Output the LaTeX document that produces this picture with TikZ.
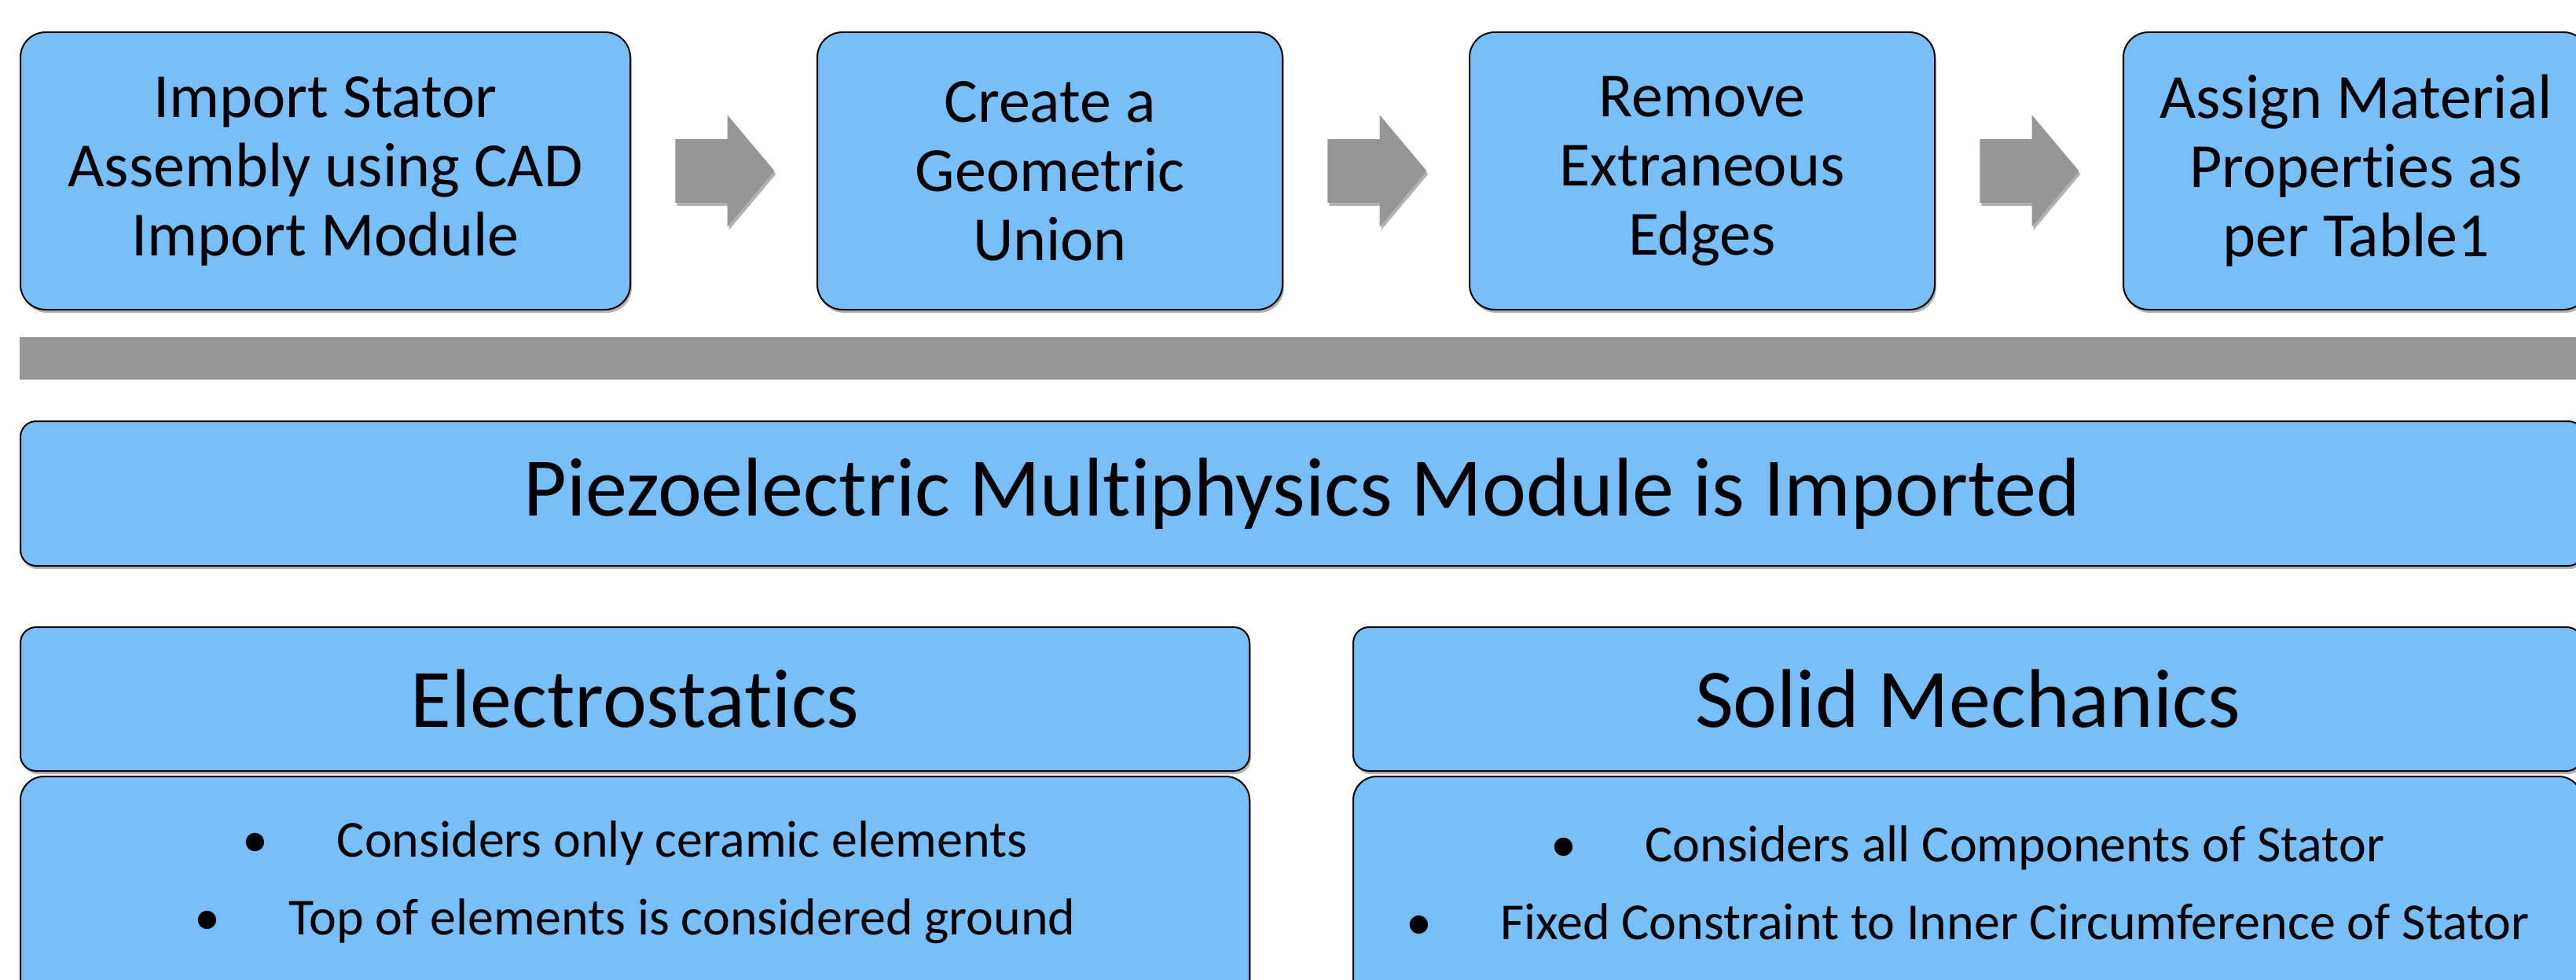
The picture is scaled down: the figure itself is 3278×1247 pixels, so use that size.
\documentclass[tikz,border=0pt]{standalone}
\usepackage{fontspec}
\setmainfont{Carlito}[RawFeature={-liga;-clig;-calt}]
\usetikzlibrary{positioning, shapes.arrows, shadows}
\definecolor{boxblue}{RGB}{120,190,248}
\definecolor{bargray}{RGB}{150,150,150}
\newcommand\blt{\makebox[60pt][l]{•}}

\begin{document}
\begin{tikzpicture}[x=0.5pt, y=-0.5pt,
  sh/.style={drop shadow={shadow xshift=1pt, shadow yshift=-2pt, opacity=0.3, fill=black}},
  s/.style={draw, line width=1pt, fill=boxblue, rounded corners=16pt, sh, align=center, minimum height=176.5pt, inner sep=0pt, font=\fontsize{40}{44}\selectfont},
  a/.style={single arrow, fill=bargray, sh, minimum height=63pt, single arrow head extend=15.5pt, single arrow tip angle=100, inner xsep=0pt, inner ysep=20pt},
  bar/.style={fill=bargray, inner sep=0pt},
  m/.style={draw, line width=1pt, fill=boxblue, rounded corners=10pt, sh, inner sep=0pt, font=\fontsize{53}{60}\selectfont},
  h/.style={m, minimum width=782pt, minimum height=91.5pt},
  b/.style={draw, line width=1pt, fill=boxblue, rounded corners=15pt, sh, minimum width=782pt, minimum height=200pt, inner sep=0pt},
  l/.style={align=center, inner sep=0pt, font=\fontsize{33}{49.5}\selectfont},
  node distance=28pt]
  \clip (0,0) rectangle (3278,1247);
  % steps
  \node[s, minimum width=388pt, anchor=north west] (s1) at (25,40) {Import Stator\\Assembly using CAD\\Import Module};
  \node[a, right=of s1] (a1) {};
  \node[s, minimum width=296pt, right=118pt of s1] (s2) {Create a\\Geometric\\Union};
  \node[a, right=of s2] (a2) {};
  \node[s, minimum width=296pt, right=118pt of s2] (s3) {Remove\\Extraneous\\Edges};
  \node[a, right=of s3] (a3) {};
  \node[s, minimum width=296pt, right=119pt of s3] (s4) {Assign Material\\Properties as\\per Table1};
  % divider
  \node[bar, anchor=north west, minimum width=1650pt, minimum height=27pt] (bar) at (25,429) {};
  \node[m, anchor=north west, minimum width=1631pt, minimum height=92pt] (pz) at (25,535) {Piezoelectric Multiphysics Module is Imported};
  % physics
  \node[h, anchor=north west] (eh) at (25,797) {Electrostatics};
  \node[b, below=2.5pt of eh] (eb) {};
  \node[l] (el) at ([yshift=-68pt]eb.north) {\blt Considers only ceramic elements\\\blt Top of elements is considered ground};
  \node[h, anchor=north west] (mh) at (1721,797) {Solid Mechanics};
  \node[b, below=2.5pt of mh] (mb) {};
  \node[l] (ml) at ([yshift=-68pt]mb.north) {\blt Considers all Components of Stator\\\blt Fixed Constraint to Inner Circumference of Stator};
\end{tikzpicture}
\end{document}
